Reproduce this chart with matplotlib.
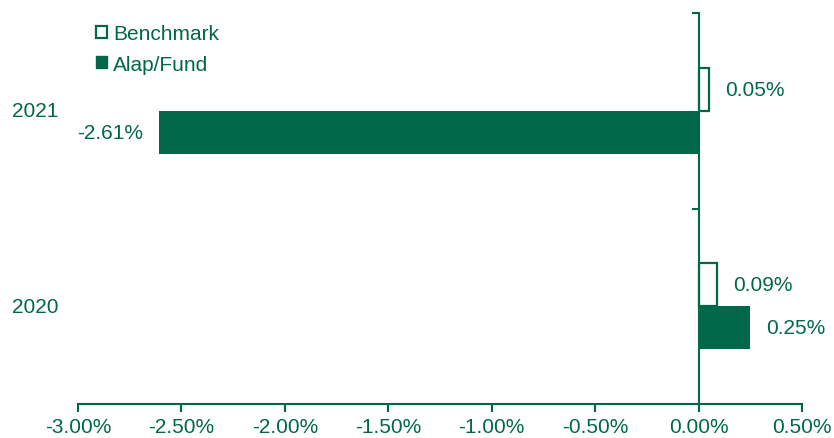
import matplotlib
matplotlib.use("agg")
import matplotlib.pyplot as plt
from matplotlib.patches import Patch

GREEN = "#006848"

years = ["2020", "2021"]
benchmark = [0.09, 0.05]
fund = [0.25, -2.61]
x_ticks = [-3.0, -2.5, -2.0, -1.5, -1.0, -0.5, 0.0, 0.5]

plt.rcParams["font.family"] = ["Liberation Sans", "DejaVu Sans"]

fig = plt.figure(figsize=(8.34, 4.39), dpi=100)
ax = fig.add_axes([78 / 834, 34 / 439, 724 / 834, 391 / 439])

pos = list(range(len(years)))
height = 0.22
ax.barh([p + height / 2 for p in pos], benchmark, height=height,
        facecolor="white", edgecolor=GREEN, linewidth=1.6, label="Benchmark")
ax.barh([p - height / 2 for p in pos], fund, height=height,
        color=GREEN, label="Alap/Fund")

offset = 0.077
for p, b, f in zip(pos, benchmark, fund):
    ax.text(max(b, 0) + offset, p + height / 2, f"{b:.2f}%", color=GREEN,
            fontsize=15, va="center", ha="left")
    if f < 0:
        ax.text(f - offset, p - height / 2, f"{f:.2f}%", color=GREEN,
                fontsize=15, va="center", ha="right")
    else:
        ax.text(f + offset, p - height / 2, f"{f:.2f}%", color=GREEN,
                fontsize=15, va="center", ha="left")

ax.set_xlim(-3.0, 0.5)
ax.set_ylim(-0.5, 1.5)
ax.set_xticks(x_ticks)
ax.set_xticklabels([f"{t:.2f}%" for t in x_ticks], color=GREEN, fontsize=15)
ax.tick_params(axis="x", direction="out", length=6, width=1.5, color=GREEN, pad=3.5)

# category axis sits at zero, labels pushed to the far left
ax.spines["left"].set_position(("data", 0))
ax.set_yticks([-0.5, 0.5, 1.5])
ax.set_yticklabels([])
ax.tick_params(axis="y", direction="out", length=5, width=1.5, color=GREEN)
for p, y in zip(pos, years):
    fig.text(35 / 834, 34 / 439 + (p + 0.5) / 2 * 391 / 439, y, color=GREEN,
             fontsize=15, va="center", ha="center")

for side in ["top", "right"]:
    ax.spines[side].set_visible(False)
for side in ["left", "bottom"]:
    ax.spines[side].set_color(GREEN)
    ax.spines[side].set_linewidth(1.5)

handles = [Patch(facecolor="white", edgecolor=GREEN, linewidth=1.6, label="Benchmark"),
           Patch(facecolor=GREEN, edgecolor=GREEN, label="Alap/Fund")]
leg = ax.legend(handles=handles, loc="upper left", bbox_to_anchor=(88 / 834, 1 - 17 / 439),
                bbox_transform=fig.transFigure, frameon=False, fontsize=15,
                handlelength=0.5, handleheight=0.5, handletextpad=0.3, labelspacing=0.55,
                borderaxespad=0)
for t in leg.get_texts():
    t.set_color(GREEN)

fig.savefig("out.png", dpi=100)
